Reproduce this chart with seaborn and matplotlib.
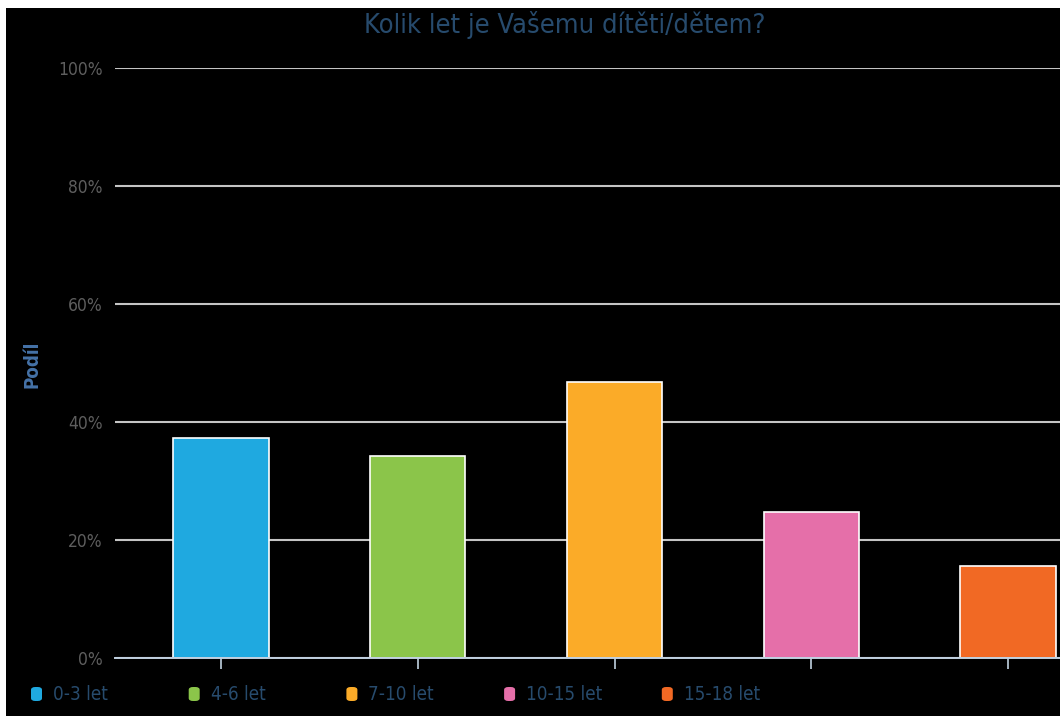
import matplotlib
matplotlib.use("Agg")
import matplotlib.pyplot as plt
from matplotlib import font_manager
from matplotlib.patches import Rectangle, FancyBboxPatch
from matplotlib.ticker import FuncFormatter, MultipleLocator
import seaborn as sns
import pandas as pd

# Age groups of the children and the share of answers for each
categories = ["0-3 let", "4-6 let", "7-10 let", "10-15 let", "15-18 let"]
shares = [37.3, 34.2, 46.8, 24.7, 15.6]
colors = ["#1fa9e0", "#8bc54a", "#fbab28", "#e56fa9", "#f16924"]
title = "Kolik let je Vašemu dítěti/dětem?"
y_label = "Podíl"

sns.set_theme(style="dark")

# prefer a narrow sans face for all chart text
installed = {f.name for f in font_manager.fontManager.ttflist}
if "Liberation Sans Narrow" in installed:
    family, stretch = "Liberation Sans Narrow", "normal"
elif "DejaVu Sans Condensed" in installed:
    family, stretch = "DejaVu Sans Condensed", "normal"
else:
    family, stretch = "DejaVu Sans", "condensed"
plt.rcParams["font.family"] = [family, "DejaVu Sans"]
plt.rcParams["font.stretch"] = stretch

W, H = 1060, 718
fig = plt.figure(figsize=(W / 100, H / 100), dpi=100, facecolor="white")

# dark panel behind the chart
fig.add_artist(Rectangle((6 / W, 2 / H), 1 - 6 / W, (H - 10) / H,
                         transform=fig.transFigure, facecolor="black",
                         edgecolor="none", zorder=0))

ax = fig.add_axes([115 / W, 60 / H, 999 / W, 590 / H])
ax.set_facecolor("black")

df = pd.DataFrame({"group": categories, "share": shares})
sns.barplot(data=df, x="group", y="share", hue="group", palette=colors,
            saturation=1, width=0.485, dodge=False, legend=False, ax=ax,
            edgecolor="white", linewidth=1.2, zorder=3)

ax.set_xlim(-0.539, 4.539)
ax.set_ylim(0, 100)
ax.yaxis.set_major_locator(MultipleLocator(20))
ax.yaxis.set_major_formatter(FuncFormatter(lambda v, _: f"{v:.0f}%"))
ax.grid(axis="y", color="#c4c4c4", linewidth=1.5, zorder=1)
ax.grid(axis="x", visible=False)

for side in ["top", "right", "left"]:
    ax.spines[side].set_visible(False)
ax.spines["bottom"].set_color("#c0d0e0")
ax.spines["bottom"].set_linewidth(1.4)
ax.spines["bottom"].set_zorder(4)

ax.tick_params(axis="x", which="major", bottom=True, length=8, width=1.2,
               color="#c0d0e0", direction="out", labelbottom=False)
ax.tick_params(axis="y", left=False, length=0, labelsize=12.5,
               labelcolor="#5e5e5e", pad=9)
ax.set_xlabel("")
ax.set_ylabel("")

fig.text(565 / W, 1 - 25 / H, title, ha="center", va="center",
         fontsize=19.5, color="#274b6d")
fig.text(32 / W, 1 - 364 / H, y_label, rotation=90, ha="center", va="center",
         fontsize=13.5, fontweight="bold", color="#4572a7")

# legend row along the bottom
for i, (name, col) in enumerate(zip(categories, colors)):
    x0 = 30 + i * 157.7
    fig.add_artist(FancyBboxPatch(((x0 + 1) / W, (H - 701) / H), 11 / W, 14 / H,
                                  boxstyle="round,pad=0,rounding_size=0.004",
                                  transform=fig.transFigure, facecolor=col,
                                  edgecolor="none", zorder=5))
    fig.text((x0 + 23) / W, 1 - 695 / H, name, ha="left", va="center",
             fontsize=13.5, color="#274b6d")

fig.savefig("out.png", dpi=100, facecolor="white")
